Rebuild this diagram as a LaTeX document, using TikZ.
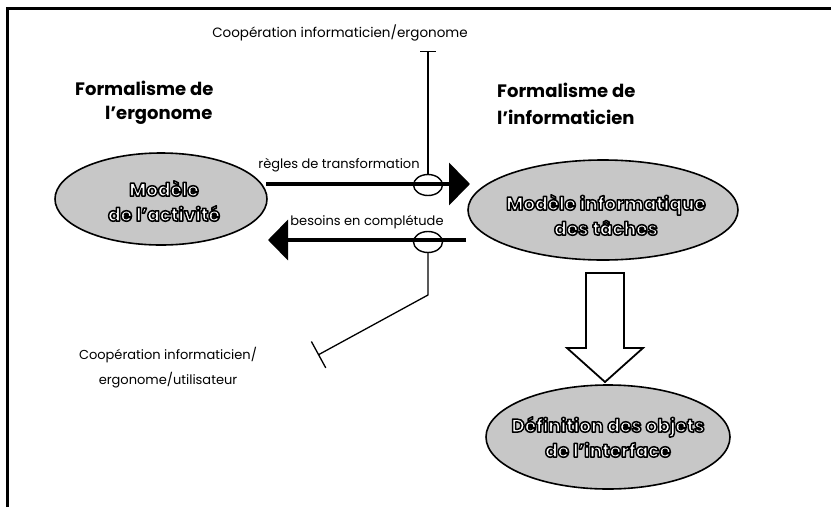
\documentclass[tikz,border=0pt]{standalone}
\usepackage{fontspec}
\setmainfont{Poppins}
\usetikzlibrary{shapes.geometric,arrows.meta}
\newcommand\outl[1]{{\color{white}\special{pdf:literal direct 2 Tr 1.5 w 0 G 1 j}#1\special{pdf:literal direct 0 Tr 0 G}}}
\begin{document}
\begin{tikzpicture}[x=1pt,y=-1pt,
  model/.style={ellipse,draw,line width=1.6pt,fill=black!22,inner sep=0pt},
  modtext/.style={font=\fontsize{18.5}{25}\selectfont\bfseries,align=center},
  lbl/.style={font=\fontsize{13}{25}\selectfont,align=center},
  ttl/.style={font=\fontsize{18}{22}\selectfont\bfseries,anchor=west,inner sep=0pt},
  ring/.style={ellipse,draw,line width=1.4pt,minimum width=29pt,minimum height=21pt,inner sep=0pt},
  thinline/.style={line width=1.3pt},
  bigarrow/.style={line width=4pt,-{Triangle[length=21pt,width=42pt]}}
]
\useasboundingbox (0,0) rectangle (831,507);
\draw[line width=3pt] (7,507) -- (7,8) -- (831,8);

% ellipses
\node[model,minimum width=212pt,minimum height=92pt] (act) at (161,199) {};
\node[modtext] (actT) at (164,201) {\outl{Modèle}\\\outl{de l'activité}};
\node[model,minimum width=270pt,minimum height=100pt] (inf) at (603,210) {};
\node[modtext] (infT) at (606,215) {\outl{Modèle informatique}\\\outl{des tâches}};
\node[model,minimum width=244pt,minimum height=104pt] (def) at (608,437) {};
\node[modtext] (defT) at (608,437) {\outl{Définition des objets}\\\outl{de l'interface}};

% titles
\node[ttl] (t1) at (75,88) {Formalisme de};
\node[ttl] (t2) at (105,115) {l'ergonome};
\node[ttl] (t3) at (497,90) {Formalisme de};
\node[ttl] (t4) at (497,117) {l'informaticien};

% arrows
\coordinate (a1s) at (266,184);
\coordinate (a1e) at (470,184);
\draw[bigarrow] (a1s) -- (a1e);
\coordinate (a2s) at (466,240);
\coordinate (a2e) at (268,240);
\draw[line width=4pt,-{Triangle[length=20pt,width=40pt]}] (a2s) -- (a2e);

\node[lbl] (lr) at (339,165) {règles de transformation};
\node[lbl] (lb) at (367,222) {besoins en complétude};

% rings
\node[ring] (r1) at (428,185) {};
\node[ring] (r2) at (428,242) {};

% cooperation lines
\coordinate (tT) at (428,51);
\draw[thinline,{Bar[width=16pt]}-] (tT) -- (r1.north);
\coordinate (bend) at (428,295);
\coordinate (tB) at (318,355);
\draw[thinline,-{Bar[width=30pt]}] (r2.south) -- (bend) -- (tB);

\node[lbl,font=\fontsize{13.5}{25}\selectfont] (ct) at (340,33) {Coopération informaticien/ergonome};
\node[lbl] (cb) at (168,368) {Coopération informaticien/\\ergonome/utilisateur};

% hollow arrow
\draw[line width=1.8pt,line join=miter,fill=white] (586,273) -- (624,273) -- (624,348) -- (643,348) -- (605,382) -- (567,348) -- (586,348) -- cycle;
\end{tikzpicture}
\end{document}
